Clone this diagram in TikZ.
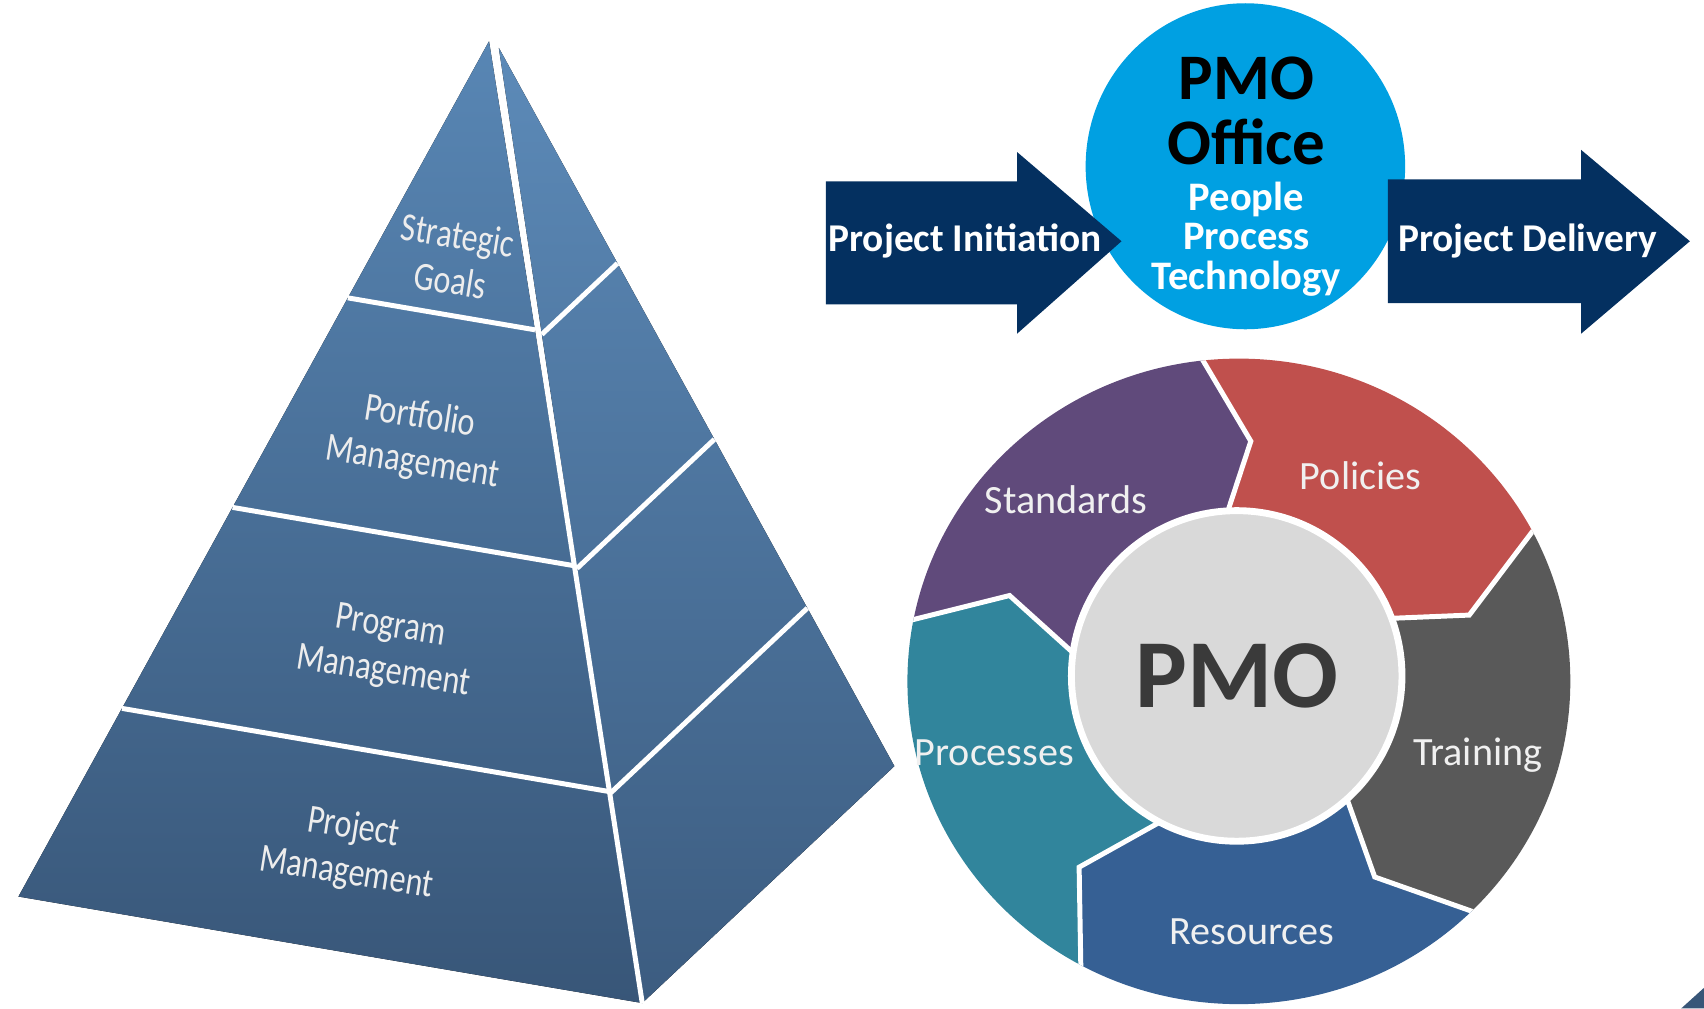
\documentclass[tikz,border=0pt]{standalone}
\usepackage{fontspec}
\setmainfont{Carlito}
\usetikzlibrary{calc}

\definecolor{navyarrow}{RGB}{4,48,96}
\definecolor{skyblue}{RGB}{0,160,226}
\definecolor{pyrtop}{RGB}{88,134,180}
\definecolor{pyrbot}{RGB}{56,86,120}
\definecolor{sidetop}{RGB}{92,138,184}
\definecolor{sidebot}{RGB}{60,92,128}
\definecolor{stdpurple}{RGB}{96,74,123}
\definecolor{polred}{RGB}{192,80,77}
\definecolor{traingrey}{RGB}{89,89,89}
\definecolor{resblue}{RGB}{54,96,148}
\definecolor{procteal}{RGB}{49,133,156}
\definecolor{hubgrey}{RGB}{217,217,217}
\definecolor{hubtext}{RGB}{58,58,58}

\tikzset{
  gap/.style={white, line width=1.3pt, line join=miter},
  pyrlabel/.style={text=white!93!black, align=center, rotate=-9, xscale=0.8,
    font=\fontsize{10.5}{12}\selectfont},
  seglabel/.style={text=white!94!black, font=\fontsize{10.5}{12}\selectfont},
  arrowtext/.style={text=white, font=\bfseries\fontsize{10.3}{12}\selectfont},
}

\begin{document}
\begin{tikzpicture}[x=0.01cm, y=-0.01cm]
  \useasboundingbox (0,0) rectangle (1568,928);

  % pyramid
  \coordinate (A) at (450,38);
  \coordinate (B) at (459,44);
  \coordinate (L) at (17,825);
  \coordinate (F) at (591,923);
  \coordinate (R) at (823,705);
  \fill[top color=pyrtop, bottom color=pyrbot] (A) -- (L) -- (F) -- cycle;
  \fill[top color=sidetop, bottom color=sidebot] (B) -- (F) -- (R) -- cycle;
  \draw[gap] (454,40) -- (F);
  \foreach \t in {0.3,0.545,0.78}{
    \draw[gap] ($(A)!\t!(L)$) -- ($(A)!\t!(F)$);
    \draw[gap] ($(B)!\t!(F)$) -- ($(B)!\t!(R)$);
  }
  \node[pyrlabel] (goals) at (418,237) {Strategic\\Goals};
  \node[pyrlabel] (portfolio) at (383,405) {Portfolio\\Management};
  \node[pyrlabel] (program) at (356,598) {Program\\Management};
  \node[pyrlabel] (project) at (322,783) {Project\\Management};

  % PMO office and flow arrows
  \fill[skyblue] (1146,153) ellipse [x radius=147, y radius=150];
  \fill[navyarrow] (760,167) -- (936,167) -- (936,140) -- (1032,222) -- (936,307)
    -- (936,280) -- (760,280) -- cycle;
  \fill[navyarrow] (1277,165) -- (1455,165) -- (1455,138) -- (1555,222) -- (1455,307)
    -- (1455,279) -- (1277,279) -- cycle;
  \node[arrowtext] (init) at (888,222) {Project Initiation};
  \node[arrowtext] (delivery) at (1406,222) {Project Delivery};
  \node[font=\bfseries\fontsize{17}{17}\selectfont, align=center] (office) at (1147,102) {PMO\\Office};
  \node[text=white, font=\bfseries\fontsize{10.6}{10.3}\selectfont, align=center] (ppt) at (1147,220)
    {People\\Process\\Technology};

  % PMO wheel
  \coordinate (C) at (1140,625);
  \coordinate (t1) at (1151,406); \coordinate (i1) at (1128,476);
  \coordinate (t2) at (1352,566); \coordinate (i2) at (1280,569);
  \coordinate (t3) at (1265,807); \coordinate (i3) at (1238,731);
  \coordinate (t4) at (993,798);  \coordinate (i4) at (1070,755);
  \coordinate (t5) at (929,548);  \coordinate (i5) at (990,603);
  \coordinate (o1) at ($(t1)!2!(1103,325)$);
  \coordinate (o2) at ($(t2)!2!(1414,484)$);
  \coordinate (o3) at ($(t3)!2!(1350,837)$);
  \coordinate (o4) at ($(t4)!2!(995,915)$);
  \coordinate (o5) at ($(t5)!2!(837,571)$);
  \begin{scope}
    \clip (1140,627) ellipse [x radius=305, y radius=297];
    \fill[stdpurple] (C) -- (i5) -- (t5) -- (o5) -- ($(C)+(-133:700)$) -- (o1) -- (t1) -- (i1) -- cycle;
    \fill[polred] (C) -- (i1) -- (t1) -- (o1) -- ($(C)+(-61:700)$) -- (o2) -- (t2) -- (i2) -- cycle;
    \fill[traingrey] (C) -- (i2) -- (t2) -- (o2) -- ($(C)+(10:700)$) -- (o3) -- (t3) -- (i3) -- cycle;
    \fill[resblue] (C) -- (i3) -- (t3) -- (o3) -- ($(C)+(82:700)$) -- (o4) -- (t4) -- (i4) -- cycle;
    \fill[procteal] (C) -- (i4) -- (t4) -- (o4) -- ($(C)+(155:700)$) -- (o5) -- (t5) -- (i5) -- cycle;
    \foreach \k in {1,...,5}{
      \draw[gap] (o\k) -- (t\k) -- (i\k);
    }
  \end{scope}
  \node[circle, fill=hubgrey, draw=white, line width=1.8pt, minimum size=3.04cm, inner sep=0pt] (hub) at (1138,622) {};
  \node[text=hubtext, font=\bfseries\fontsize{25.5}{26}\selectfont] (hubtitle) at (hub) {PMO};
  \node[seglabel] (standards) at (981,460) {Standards};
  \node[seglabel] (policies) at (1252,438) {Policies};
  \node[seglabel] (training) at (1360,695) {Training};
  \node[seglabel] (resources) at (1152,857) {Resources};
  \node[seglabel] (processes) at (915,693) {Processes};

  % corner piece
  \fill[pyrbot] (1547,928) -- (1568,909) -- (1568,928) -- cycle;
\end{tikzpicture}
\end{document}
